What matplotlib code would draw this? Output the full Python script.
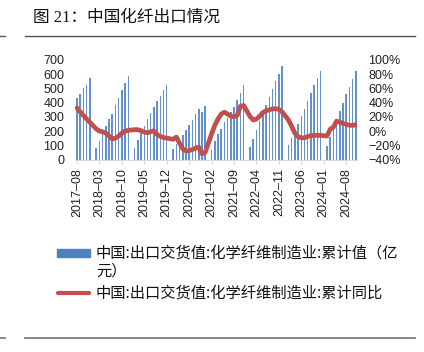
import matplotlib
matplotlib.use('Agg')
import matplotlib.pyplot as plt
import numpy as np
import pandas as pd
from matplotlib.patches import Rectangle
from matplotlib.lines import Line2D

# monthly categories, Jan values are not published (Jan-Feb combined)
months = pd.period_range('2017-08', '2024-11', freq='M').strftime('%Y–%m').tolist()

# cumulative export delivery value, 100m yuan
export_value = [
    430, 458, 505, 527, 570,
    None, 78, 130, 190, 237, 288, 323, 382, 435, 487, 538, 585,
    None, 80, 136, 190, 234, 283, 328, 370, 411, 447, 489, 527,
    None, 71, 110, 140, 171, 206, 241, 281, 323, 358, 336, 376,
    None, 66, 129, 177, 218, 265, 295, 333, 370, 416, 467, 527,
    None, 88, 147, 206, 268, 320, 384, 438, 498, 553, 605, 659,
    None, 100, 152, 195, 247, 305, 352, 410, 465, 521, 576, 626,
    None, 95, 160, 220, 282, 340, 398, 460, 510, 566, 626,
]

# cumulative yoy, %
export_yoy = [
    32.5, 27, 22, 17, 12.5,
    None, 3, 0, -1, -3, -7, -11, -10, -7, -3, 0, 1,
    None, 2, 2, 0.5, -1.5, -2.3, -1, 0.5, -5, -7.5, -9, -10,
    None, -11.5, -8.5, -17, -25, -28, -27.5, -26, -24, -22.5, -32, -30,
    None, -4, 8, 17, 24, 26.5, 24, 21, 20, 22, 35, 36,
    None, 20.5, 15.5, 17, 21, 26, 28.5, 30, 31, 31.5, 30.5, 27,
    None, 15.5, 6.5, -3, -8, -9.5, -9.5, -7.5, -6.5, -6, -6, -6,
    None, -7, 2.5, 5.5, 14, 12.7, 10.8, 9.5, 8.2, 8, 8.8,
]

title = '图 21：中国化纤出口情况'
bar_label = '中国:出口交货值:化学纤维制造业:累计值（亿\n元）'
line_label = '中国:出口交货值:化学纤维制造业:累计同比'

BLUE = '#6391CF'
RED = '#C0504D'
W, H = 424, 352

plt.rcParams['font.family'] = ['Liberation Sans', 'Noto Sans CJK SC']
plt.rcParams['axes.unicode_minus'] = True

fig = plt.figure(figsize=(W / 100, H / 100), dpi=100)
ax = fig.add_axes([75.4 / W, 1 - 159.5 / H, 282 / W, 99.5 / H])

x = np.arange(len(months))
vals = np.array([np.nan if v is None else v for v in export_value], float)
ax.bar(x, vals, width=0.47, color=BLUE, zorder=2)
ax.set_xlim(-0.5, len(months) - 0.5)
ax.set_ylim(0, 700)
ax.set_yticks(range(0, 701, 100))
ax.set_xticks(x[::7])
ax.set_xticklabels(months[::7], rotation=90)
ax.tick_params(axis='x', length=3, color='#D9D9D9', pad=3, labelsize=9, labelcolor='#222222')
ax.tick_params(axis='y', length=0, pad=8, labelsize=9, labelcolor='#222222')
for s in ['top', 'left', 'right']:
    ax.spines[s].set_visible(False)
ax.spines['bottom'].set_color('#D9D9D9')

ax2 = ax.twinx()
yoy = np.array([np.nan if v is None else v for v in export_yoy], float)
ok = ~np.isnan(yoy)
ax2.plot(x[ok], yoy[ok], color=RED, lw=3.4, solid_capstyle='round', solid_joinstyle='round', zorder=3)
ax2.set_ylim(-40, 100)
ax2.set_yticks(range(-40, 101, 20))
ax2.yaxis.set_major_formatter(lambda v, p: f'{v:.0f}%'.replace('-', '\u2212'))
ax2.tick_params(axis='y', length=0, pad=8, labelsize=9, labelcolor='#222222')
for s in ['top', 'left', 'right', 'bottom']:
    ax2.spines[s].set_visible(False)

fig.text(33 / W, 1 - 17.5 / H, title, fontsize=12, va='center', ha='left',
         family=['Liberation Serif', 'Noto Sans CJK SC'], color='#111111')

# page rules
for yy, lw, c in [(36, 1.0, '#555555'), (338, 1.4, '#888888')]:
    fig.add_artist(Line2D([25 / W, 415 / W], [1 - yy / H] * 2, color=c, lw=lw))
    fig.add_artist(Line2D([0, 5 / W], [1 - yy / H] * 2, color=c, lw=lw))

# legend, drawn by hand so the swatch sits on the first text line
fig.add_artist(Rectangle((57 / W, 1 - 257 / H), 33 / W, 8 / H, color='#4F81BD',
                         transform=fig.transFigure))
fig.add_artist(Line2D([58 / W, 89 / W], [1 - 293 / H] * 2, color=RED, lw=3,
                      solid_capstyle='round'))
fig.text(96 / W, 1 - 244 / H, bar_label, fontsize=11, va='top', ha='left',
         family=['Noto Sans CJK SC'], linespacing=1.15, color='#111111')
fig.text(96 / W, 1 - 293 / H, line_label, fontsize=11, va='center', ha='left',
         family=['Noto Sans CJK SC'], color='#111111')

fig.savefig('out.png', dpi=100)
